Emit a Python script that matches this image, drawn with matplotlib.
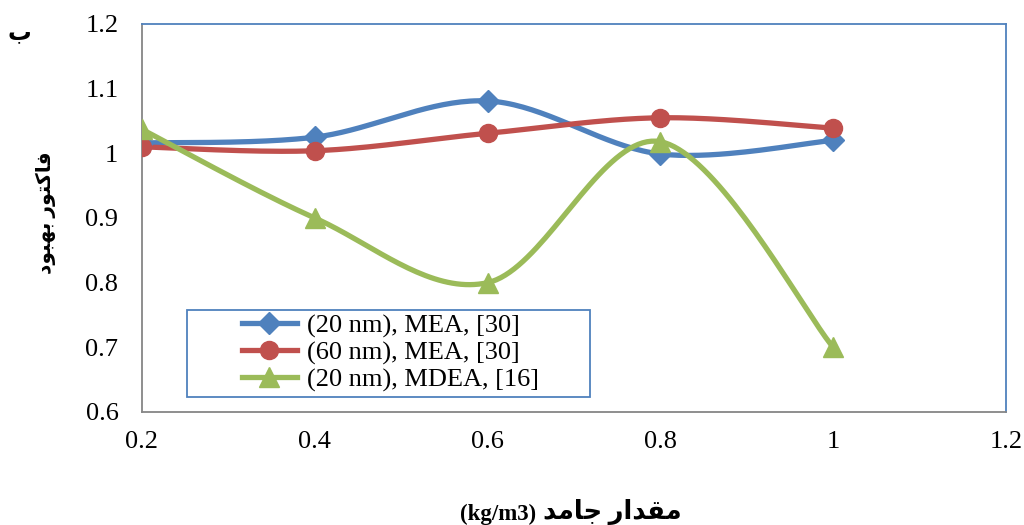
import numpy as np
import matplotlib
matplotlib.use("Agg")
import matplotlib.pyplot as plt
from matplotlib.patches import Rectangle

# donnees
x_vals = [0.2, 0.4, 0.6, 0.8, 1.0]
mea_20 = [1.016, 1.025, 1.081, 0.999, 1.02]
mea_60 = [1.01, 1.004, 1.031, 1.055, 1.039]
mdea_20 = [1.037, 0.9, 0.8, 1.018, 0.7]
labels = ['(20 nm), MEA, [30]', '(60 nm), MEA, [30]', '(20 nm), MDEA, [16]']
x_ticks = [0.2, 0.4, 0.6, 0.8, 1.0, 1.2]
x_tick_labels = ['0.2', '0.4', '0.6', '0.8', '1', '1.2']
y_ticks = [0.6, 0.7, 0.8, 0.9, 1.0, 1.1, 1.2]
y_tick_labels = ['0.6', '0.7', '0.8', '0.9', '1', '1.1', '1.2']

# textes persans (formes de presentation, ordre visuel)
titre_b = '\uFE8F'
y_titre = '\uFEA9\uFEEE\uFE92\uFEEC\uFE91 \uFEAD\uFEEE\uFE98\uFB90\uFE8E\uFED3'
x_unite = '(kg/m3)'
x_titre = '\uFEAA\uFEE3\uFE8E\uFE9F \uFEAD\uFE8D\uFEAA\uFED8\uFEE3'

couleurs = ['#4F81BD', '#C0504D', '#9BBB59']
marqueurs = ['D', 'o', '^']
tailles = [11, 13, 14]

fonts = ['Liberation Serif', 'DejaVu Sans']
plt.rcParams['font.family'] = fonts


def lisser(xs, ys, n=40):
    # courbe lissee a la maniere d'Excel (Bezier)
    p = np.column_stack([xs, ys]).astype(float)
    ext = np.vstack([p[0], p, p[-1]])
    t = np.linspace(0, 1, n)[:, None]
    out = []
    for i in range(len(p) - 1):
        p0, p1 = ext[i + 1], ext[i + 2]
        c1 = p0 + (ext[i + 2] - ext[i]) / 6.0
        c2 = p1 - (ext[i + 3] - ext[i + 1]) / 6.0
        seg = (1 - t) ** 3 * p0 + 3 * (1 - t) ** 2 * t * c1 + 3 * (1 - t) * t ** 2 * c2 + t ** 3 * p1
        out.append(seg if i == 0 else seg[1:])
    out = np.vstack(out)
    return out[:, 0], out[:, 1]


fig = plt.figure(figsize=(10.24, 5.25), dpi=100)
ax = fig.add_axes([142 / 1024, 1 - 412 / 525, 864 / 1024, 388 / 525])

series = [mea_20, mea_60, mdea_20]
for ys, c, m, s, lab in zip(series, couleurs, marqueurs, tailles, labels):
    sx, sy = lisser(x_vals, ys)
    ax.plot(sx, sy, color=c, lw=3.8, solid_capstyle='round', zorder=2)
    ax.plot(x_vals, ys, linestyle='none', marker=m, color=c, markersize=s, zorder=3)
    ax.plot([], [], color=c, lw=3.8, marker=m, markersize=s, label=lab)

ax.set_xlim(0.2, 1.2)
ax.set_ylim(0.6, 1.2)
ax.set_xticks(x_ticks)
ax.set_xticklabels(x_tick_labels)
ax.set_yticks(y_ticks)
ax.set_yticklabels(y_tick_labels)
ax.tick_params(axis='both', length=0, labelsize=19)
ax.tick_params(axis='x', pad=14)
ax.tick_params(axis='y', pad=17)

for cote in ['top', 'right']:
    ax.spines[cote].set_color('#4F81BD')
    ax.spines[cote].set_linewidth(1.3)
for cote in ['left', 'bottom']:
    ax.spines[cote].set_color('#868686')
    ax.spines[cote].set_linewidth(1.3)

# cadre de la legende
cadre = Rectangle((0.052, 0.039), 0.466, 0.224, transform=ax.transAxes,
                  fill=True, facecolor='white', edgecolor='#4F81BD', lw=1.3, zorder=4)
ax.add_patch(cadre)
leg = ax.legend(loc='center', bbox_to_anchor=(0.2875, 0.152),
                fontsize=19, frameon=False,
                handlelength=2.1, labelspacing=0.12, borderpad=0,
                handletextpad=0.38, borderaxespad=0)
leg.set_zorder(5)

fig.text(19 / 1024, 1 - 34 / 525, titre_b, fontsize=17, fontweight='bold',
         ha='center', va='center', family=fonts)
fig.text(46 / 1024, 1 - 213 / 525, y_titre, rotation=90, fontsize=14.5,
         fontweight='bold', ha='center', va='center', family=fonts)
fig.text(536 / 1024, 1 - 514 / 525, x_unite, fontsize=16.5, fontweight='bold',
         ha='right', va='center', family=fonts)
fig.text(543 / 1024, 1 - 512 / 525, x_titre, fontsize=18.5, fontweight='bold',
         ha='left', va='center', family=fonts)

fig.savefig('out.png', dpi=100)
